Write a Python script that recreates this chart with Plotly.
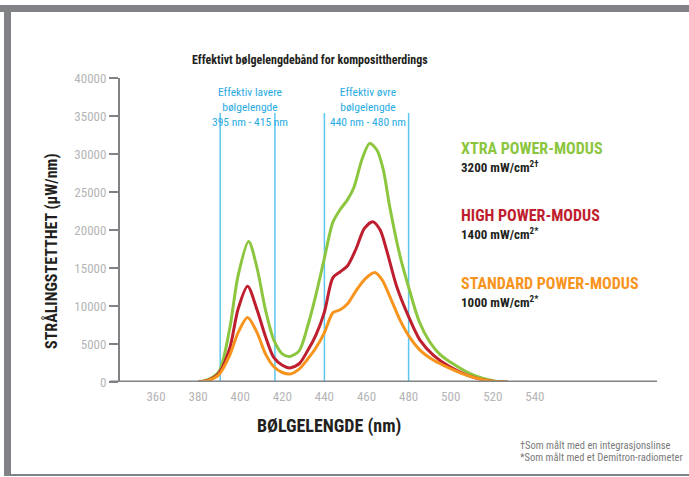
import plotly.graph_objects as go

# ---------------- data ----------------
xtra_nm = [380, 385, 390, 395, 399, 404, 408, 412, 416, 420, 423.5, 428, 432, 436, 440, 444, 447.5, 451, 454, 458, 461.5, 465, 468, 471, 476, 480, 485, 490, 495, 500, 507.5, 515, 522, 527]
xtra_val = [0, 350, 1400, 7000, 14000, 18500, 15000, 9500, 5500, 3700, 3350, 4100, 7300, 11500, 16300, 21000, 22700, 24000, 25600, 29400, 31400, 30500, 27900, 23100, 16500, 12500, 8000, 5300, 3600, 2600, 1350, 500, 80, 0]

high_nm = [380, 385, 390, 395, 399, 403.5, 408, 412, 416, 420, 423.5, 428, 432, 436, 440, 444, 447.5, 451, 455, 459, 463, 466.5, 469.5, 474.3, 480, 485.4, 491.7, 499.6, 507.5, 515, 522, 527]
high_val = [0, 250, 1200, 4400, 9600, 12600, 9500, 6000, 3200, 2200, 1850, 2400, 4100, 6200, 9200, 13700, 14500, 15300, 17500, 20200, 21100, 20000, 17400, 12600, 8600, 5500, 3550, 2000, 950, 300, 50, 0]

std_nm = [380, 385, 390, 395, 399, 403.5, 408, 412, 416, 420, 423.5, 428, 432, 436, 440, 444, 447.5, 451, 455, 459.5, 464, 467.5, 471, 476, 480, 485.4, 491.7, 499.6, 507.5, 515, 522, 527]
std_val = [0, 200, 1000, 3500, 6500, 8500, 6500, 3700, 2000, 1250, 1050, 1700, 3000, 4500, 6500, 9100, 9500, 10300, 12000, 13600, 14400, 13400, 11300, 8100, 6100, 4200, 2900, 1800, 900, 300, 50, 0]

band_edges = [390.5, 416.5, 440, 480]
band_top = 35400

x_ticks = [360, 380, 400, 420, 440, 460, 480, 500, 520, 540]
y_ticks = [0, 5000, 10000, 15000, 20000, 25000, 30000, 35000, 40000]
y_ticklabels = ["0", "5000", "10000", "15000", "20000", "25000", "30000", "35000", "40000"]

series_names = ["XTRA POWER-MODUS", "HIGH POWER-MODUS", "STANDARD POWER-MODUS"]
series_power = ["3200 mW/cm<sup>2†</sup>", "1400 mW/cm<sup>2*</sup>", "1000 mW/cm<sup>2*</sup>"]

# ---------------- style ----------------
GREEN = "#8cc63f"
RED = "#be1e2d"
ORANGE = "#f7941d"
BLUE = "#5bc6ef"
GREY = "#808285"
LGREY = "#b5b5b5"
FONT = "Liberation Sans Narrow, Roboto Condensed, Arial Narrow, Roboto, sans-serif"

W, H = 689, 477
L, R, T, B = 120, 657, 78, 382   # plot area in pixels
XR = [342.9, 598.0]
YR = [0, 40000]

def px_x(px):
    return (px - L) / (R - L)

def px_y(py):
    return (B - py) / (B - T)

fig = go.Figure()
for nm, val, col in [(xtra_nm, xtra_val, GREEN), (high_nm, high_val, RED), (std_nm, std_val, ORANGE)]:
    fig.add_trace(go.Scatter(x=nm, y=val, mode="lines",
                             line=dict(color=col, width=3, shape="spline", smoothing=0.8),
                             showlegend=False, hoverinfo="skip"))

shapes = []
for e in band_edges:
    shapes.append(dict(type="line", xref="x", yref="y", x0=e, x1=e, y0=0, y1=band_top,
                       line=dict(color=BLUE, width=1.5), layer="below"))
shapes.append(dict(type="line", xref="paper", yref="y", x0=px_x(110), x1=px_x(657), y0=0, y1=0,
                   line=dict(color=GREY, width=3)))
# frame
shapes.append(dict(type="rect", xref="paper", yref="paper", x0=px_x(0), x1=px_x(689),
                   y0=px_y(12), y1=px_y(5), fillcolor=GREY, line=dict(width=0)))
shapes.append(dict(type="rect", xref="paper", yref="paper", x0=px_x(4), x1=px_x(11),
                   y0=px_y(476), y1=px_y(5), fillcolor=GREY, line=dict(width=0)))
shapes.append(dict(type="line", xref="paper", yref="paper", x0=px_x(4), x1=px_x(689),
                   y0=px_y(475), y1=px_y(475), line=dict(color=GREY, width=2)))

ann = []
def text(x, y, s, size, color="#231f20", bold=False, xanchor="center", yanchor="middle", angle=0, align="center"):
    ann.append(dict(xref="paper", yref="paper", x=px_x(x), y=px_y(y), text=(f"<b>{s}</b>" if bold else s),
                    showarrow=False, xanchor=xanchor, yanchor=yanchor, textangle=angle, align=align,
                    font=dict(family=FONT, size=size, color=color)))

text(310, 60, "Effektivt bølgelengdebånd for komposittherdings", 12, bold=True)
text(250, 107, "Effektiv lavere<br>bølgelengde<br>395 nm - 415 nm", 11.5, color="#29abe2")
text(368, 107, "Effektiv øvre<br>bølgelengde<br>440 nm - 480 nm", 11.5, color="#29abe2")
text(51, 251, "STRÅLINGSTETTHET (μW/nm)", 16, bold=True, angle=-90)
text(329, 426, "BØLGELENGDE (nm)", 18, bold=True)

cols = [GREEN, RED, ORANGE]
ys = [148, 215, 283]
for name, pw, col, yy in zip(series_names, series_power, cols, ys):
    text(459, yy, name, 16, color=col, bold=True, xanchor="left")
    text(459, yy + 19, pw, 13, bold=True, xanchor="left")

text(518, 445, "†Som målt med en integrasjonslinse", 10.5, color="#7a7a7a", xanchor="left")
text(518, 457, "*Som målt med et Demitron-radiometer", 10.5, color="#7a7a7a", xanchor="left")

fig.update_layout(
    width=W, height=H,
    margin=dict(l=L, r=W - R, t=T, b=H - B),
    paper_bgcolor="white", plot_bgcolor="white",
    shapes=shapes, annotations=ann,
    xaxis=dict(range=XR, tickvals=x_ticks, showgrid=False, zeroline=False, showline=False,
               ticks="outside", ticklen=2, tickcolor="rgba(0,0,0,0)",
               tickfont=dict(family=FONT, size=13, color=LGREY)),
    yaxis=dict(range=YR, tickvals=y_ticks, ticktext=y_ticklabels, showgrid=False, zeroline=False,
               showline=True, linecolor=GREY, linewidth=2, ticks="outside", ticklen=9, tickwidth=2,
               tickcolor=GREY, tickfont=dict(family=FONT, size=13, color=LGREY)),
)

fig.write_html("out.html", config={"displayModeBar": False},
               post_script="document.body.style.margin='0px';document.body.style.overflow='hidden';")
